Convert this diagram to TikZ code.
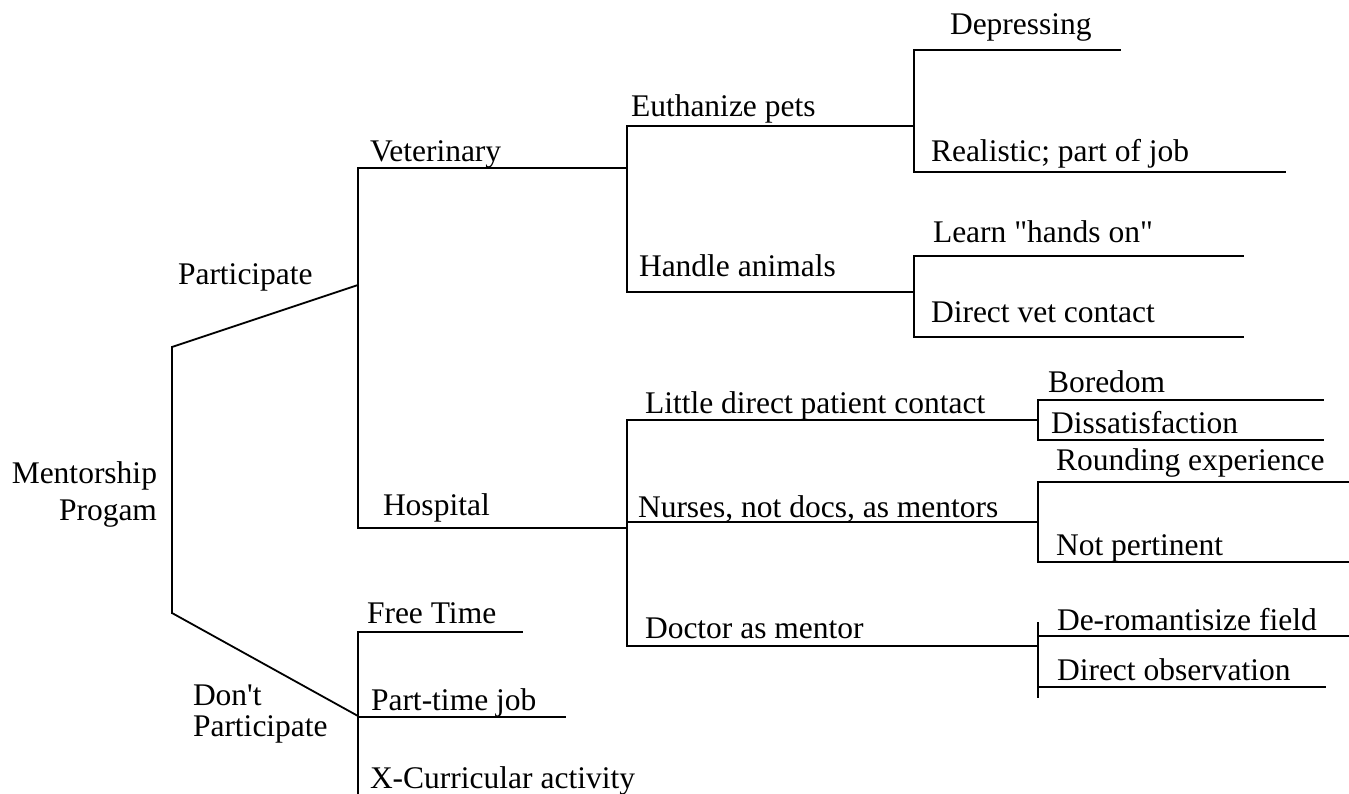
\documentclass[tikz,border=0pt]{standalone}
\usepackage{fontspec}
\setmainfont{Liberation Serif}[Ligatures=TeXOff]
\begin{document}
\begin{tikzpicture}[x=1pt,y=-1pt,
  lbl/.style={anchor=base west,inner sep=0pt,outer sep=0pt,font=\fontsize{31.5}{37}\selectfont},
  lblr/.style={anchor=base east,inner sep=0pt,outer sep=0pt,font=\fontsize{31.5}{37}\selectfont},
  br/.style={line width=1.8pt,line cap=rect}]
\useasboundingbox (0,0) rectangle (1349,794);
% coordinates
\coordinate (r1) at (172,347);
\coordinate (r2) at (172,613);
\coordinate (p1) at (358,168);
\coordinate (pj) at (358,285);
\coordinate (p2) at (358,528);
\coordinate (d1) at (358,632);
\coordinate (dj) at (358,716);
\coordinate (d2) at (358,717);
\coordinate (d3) at (358,800);
\coordinate (ftE) at (522,632);
\coordinate (ptE) at (565,717);
\coordinate (vE) at (627,168);
\coordinate (hE) at (627,528);
\coordinate (v1) at (627,126);
\coordinate (v2) at (627,292);
\coordinate (euE) at (914,126);
\coordinate (haE) at (914,292);
\coordinate (e1) at (914,50);
\coordinate (e2) at (914,172);
\coordinate (depE) at (1120,50);
\coordinate (reaE) at (1285,172);
\coordinate (a1) at (914,256);
\coordinate (a2) at (914,337);
\coordinate (leE) at (1243,256);
\coordinate (dvE) at (1243,337);
\coordinate (h1) at (627,420);
\coordinate (hn) at (627,522);
\coordinate (h2) at (627,646);
\coordinate (liE) at (1038,420);
\coordinate (nuE) at (1038,522);
\coordinate (doE) at (1038,646);
\coordinate (l1) at (1038,400);
\coordinate (l2) at (1038,440);
\coordinate (boE) at (1323,400);
\coordinate (diE) at (1323,440);
\coordinate (n1) at (1038,482);
\coordinate (n2) at (1038,562);
\coordinate (roE) at (1349,482);
\coordinate (npE) at (1349,562);
\coordinate (m1) at (1038,623);
\coordinate (mr) at (1038,636);
\coordinate (mo) at (1038,687);
\coordinate (m2) at (1038,697);
\coordinate (drE) at (1349,636);
\coordinate (obE) at (1325,687);
% lines
\draw[br] (r1) -- (r2);
\draw[br,line cap=butt] (r1) -- (pj);
\draw[br,line cap=butt] (r2) -- (dj);
\draw[br] (p1) -- (p2);
\draw[br] (p1) -- (vE);
\draw[br] (p2) -- (hE);
\draw[br] (d1) -- (d3);
\draw[br] (d1) -- (ftE);
\draw[br] (d2) -- (ptE);
\draw[br] (v1) -- (v2);
\draw[br] (v1) -- (euE);
\draw[br] (v2) -- (haE);
\draw[br] (e1) -- (e2);
\draw[br] (e1) -- (depE);
\draw[br] (e2) -- (reaE);
\draw[br] (a1) -- (a2);
\draw[br] (a1) -- (leE);
\draw[br] (a2) -- (dvE);
\draw[br] (h1) -- (h2);
\draw[br] (h1) -- (liE);
\draw[br] (hn) -- (nuE);
\draw[br] (h2) -- (doE);
\draw[br] (l1) -- (l2);
\draw[br] (l1) -- (boE);
\draw[br] (l2) -- (diE);
\draw[br] (n1) -- (n2);
\draw[br] (n1) -- (roE);
\draw[br] (n2) -- (npE);
\draw[br] (m1) -- (m2);
\draw[br] (mr) -- (drE);
\draw[br] (mo) -- (obE);
% labels
\node[lblr] (tm1) at (157,483) {Mentorship};
\node[lblr] (tm2) at (157,520) {Progam};
\node[lbl] (tpart) at (178,285) {Participate};
\node[lbl] (tdon1) at (193,705) {Don't};
\node[lbl] (tdon2) at (193,736) {Participate};
\node[lbl] (tvet) at (370,162) {Veterinary};
\node[lbl] (thos) at (383,515) {Hospital};
\node[lbl] (tfree) at (367,623) {Free Time};
\node[lbl] (tpt) at (371,710) {Part-time job};
\node[lbl] (tx) at (370,788) {X-Curricular activity};
\node[lbl] (teu) at (631,117) {Euthanize pets};
\node[lbl] (tha) at (639,277) {Handle animals};
\node[lbl] (tdep) at (950,35) {Depressing};
\node[lbl] (trea) at (931,162) {Realistic; part of job};
\node[lbl] (tlea) at (933,243) {Learn "hands on"};
\node[lbl] (tdv) at (931,323) {Direct vet contact};
\node[lbl] (tli) at (645,413) {Little direct patient contact};
\node[lbl] (tnu) at (638,517) {Nurses, not docs, as mentors};
\node[lbl] (tdo) at (645,638) {Doctor as mentor};
\node[lbl] (tbo) at (1048,392) {Boredom};
\node[lbl] (tdi) at (1051,433) {Dissatisfaction};
\node[lbl] (tro) at (1056,470) {Rounding experience};
\node[lbl] (tnp) at (1056,555) {Not pertinent};
\node[lbl] (tdr) at (1057,630) {De-romantisize field};
\node[lbl] (tob) at (1057,680) {Direct observation};
\end{tikzpicture}
\end{document}
